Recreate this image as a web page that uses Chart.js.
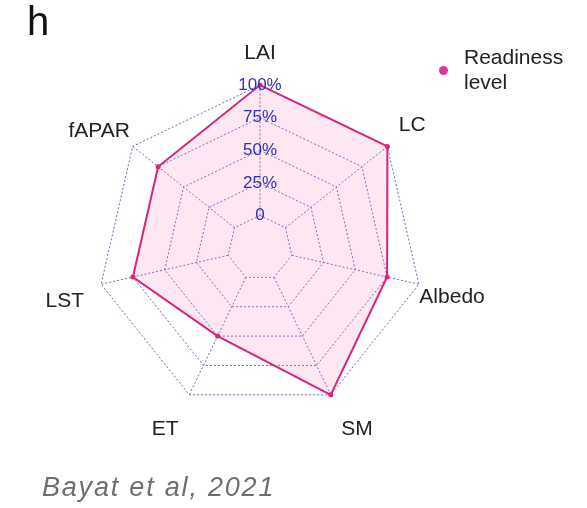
<!DOCTYPE html>
<html><head><meta charset="utf-8">
<script src="https://cdn.jsdelivr.net/npm/chart.js@4/dist/chart.umd.min.js"></script>
<style>
html,body{margin:0;padding:0;background:#fff;width:587px;height:508px;overflow:hidden;font-family:"Liberation Sans",Arial,sans-serif;}
#wrap{position:relative;width:587px;height:508px;}
#c{position:absolute;left:0;top:0;}
#panel{position:absolute;left:27px;top:-3px;font-size:40px;color:#111;line-height:48px;}
#legend{position:absolute;left:436px;top:44px;font-size:21px;line-height:25px;color:#222;}
#legend .dot{position:absolute;left:3px;top:22px;width:9px;height:9px;border-radius:50%;}
#legend .txt{position:absolute;left:28px;top:0;width:120px;}
#cite{position:absolute;left:42px;top:472px;font-style:italic;font-size:27px;color:#6d7073;letter-spacing:1.8px;white-space:nowrap;}
</style></head>
<body><div id="wrap">
<canvas id="c" width="587" height="508"></canvas>
<div id="panel">h</div>
<div id="legend"></div>
<div id="cite">Bayat et al, 2021</div>
</div>
<script>
const categories = ['LAI', 'LC', 'Albedo', 'SM', 'ET', 'LST', 'fAPAR'];
const readiness = [100, 100, 75, 100, 50, 75, 75];
const tickValues = [-25, 0, 25, 50, 75, 100];
const tickLabels = ['', '0', '25%', '50%', '75%', '100%'];
const seriesName = 'Readiness level';

const lineColor = '#d6247f';
const gridColor = 'rgba(80,80,175,0.85)';
const labelPad = {LAI: 9, LC: 4, Albedo: -10, SM: 14, ET: 14, LST: 7, fAPAR: -7};

const chart = new Chart(document.getElementById('c'), {
  type: 'radar',
  data: {
    labels: categories,
    datasets: [{
      label: seriesName,
      data: readiness,
      borderColor: lineColor,
      borderWidth: 2,
      backgroundColor: 'rgba(245,120,190,0.18)',
      fill: 'start',
      pointRadius: 2.5,
      pointBackgroundColor: lineColor,
      pointBorderWidth: 0,
      tension: 0
    }]
  },
  options: {
    responsive: false,
    animation: false,
    layout: {padding: {left: 41, top: 16, right: 96, bottom: 42}},
    plugins: {legend: {display: false}, tooltip: {enabled: false}},
    scales: {
      r: {
        min: -25, max: 100,
        ticks: {
          stepSize: 25,
          z: 1,
          showLabelBackdrop: false,
          color: '#2f2fc0',
          font: {family: '"Liberation Sans", Arial, sans-serif', size: 17},
          callback: (v) => { const i = tickValues.indexOf(v); return i >= 0 ? tickLabels[i] : ''; }
        },
        grid: {color: gridColor, lineWidth: 1, circular: false},
        border: {dash: [2, 2]},
        angleLines: {
          color: gridColor, lineWidth: 1,
          borderDash: (ctx) => {
            const s = ctx.chart.scales.r;
            const g = s ? s.getDistanceFromCenterForValue(0) : 0;
            const arr = [0, g];
            for (let i = 0; i < 60; i++) arr.push(2, 2);
            return arr;
          }
        },
        pointLabels: {
          color: '#222',
          font: {family: '"Liberation Sans", Arial, sans-serif', size: 21},
          padding: (ctx) => labelPad[ctx.label] ?? 5
        }
      }
    }
  }
});

const ds = chart.data.datasets[0];
document.getElementById('legend').innerHTML =
  '<span class="dot" style="background:#e0359b"></span><span class="txt">' + ds.label.replace(' ', '<br>') + '</span>';
</script>
</body></html>
